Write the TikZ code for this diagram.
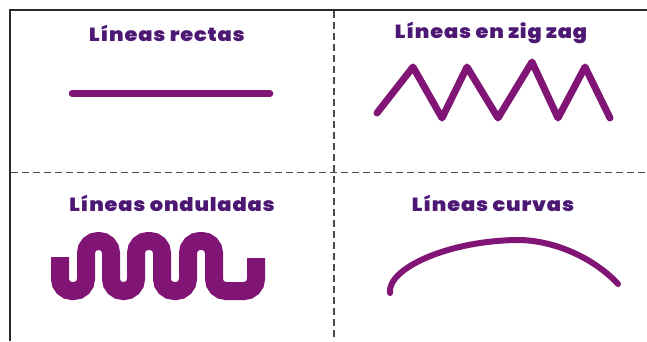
\documentclass[tikz,border=0pt]{standalone}
\usepackage{graphicx}
\usepackage{fontspec}
\newfontfamily\titlefont{Poppins Black}[LetterSpace=4]
\definecolor{txtpurple}{HTML}{4C1873}
\definecolor{linepurple}{HTML}{811575}
\definecolor{framegray}{HTML}{2A2A2A}
\definecolor{dashgray}{HTML}{4A4A4A}
\newcommand{\wide}[1]{\scalebox{1.1}[1]{#1}}
\begin{document}
\begin{tikzpicture}[x=1pt,y=-1pt,
  title/.style={font=\titlefont\fontsize{19}{21}\selectfont, text=txtpurple, inner sep=0pt, anchor=center},
  stroke/.style={draw=linepurple, line cap=round, line join=round},
  divider/.style={draw=dashgray, line width=1.6pt, dash pattern=on 7pt off 4pt},
  frameline/.style={draw=framegray, line width=2pt}]
\useasboundingbox (0,0) rectangle (647,341);
\fill[white] (0,0) rectangle (647,341);
% frame
\draw[frameline] (10,341) -- (10,10) -- (647,10);
% dividers
\draw[divider] (334,11) -- (334,341);
\draw[divider] (11,172.5) -- (647,172.5);
% titles
\node[title] (t1) at (167,33) {\wide{Líneas rectas}};
\node[title] (t2) at (491,33) {\wide{Líneas en zig zag}};
\node[title] (t3) at (172,203) {\wide{Líneas onduladas}};
\node[title] (t4) at (493,203) {\wide{Líneas curvas}};
% straight line
\draw[stroke, line width=6.5pt] (72,93.5) -- (270,93.5);
% zig zag
\draw[stroke, line width=7pt] (377,113) -- (413,67) -- (442,118) -- (467,67) -- (498,118) -- (532,62) -- (558,118) -- (585,67) -- (610,118);
% wavy meander
\draw[draw=linepurple, line width=18pt, line cap=butt, rounded corners=12pt]
  (60,257) -- (60,291) -- (86,291) -- (86,241) -- (111,241) -- (111,291) -- (136,291) -- (136,241)
  -- (162,241) -- (162,291) -- (188,291) -- (188,241) -- (214,241) -- (214,291) -- (256,291) -- (256,258);
% curve
\draw[stroke, line width=6pt] (390,293) .. controls (387,268) and (450,240) .. (520,240)
  .. controls (560,241) and (598,262) .. (618,284);
\end{tikzpicture}
\end{document}
